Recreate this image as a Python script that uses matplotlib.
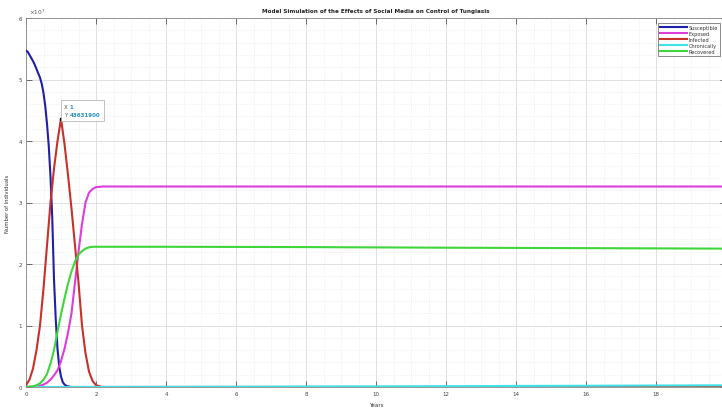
import matplotlib
matplotlib.use("Agg")
import matplotlib.pyplot as plt
from matplotlib.ticker import MultipleLocator
from matplotlib.patches import Rectangle

# values in units of 1e7 individuals, time in years
t_susceptible = [0, 0.05, 0.1, 0.15, 0.2, 0.25, 0.3, 0.35, 0.4, 0.45, 0.5, 0.55, 0.6, 0.65,
                 0.7, 0.75, 0.8, 0.85, 0.9, 0.95, 1.0, 1.05, 1.1, 1.15, 1.2, 1.3, 1.5, 3, 10, 20]
susceptible = [5.47, 5.45, 5.40, 5.35, 5.30, 5.24, 5.17, 5.10, 5.03, 4.93, 4.78, 4.57, 4.28,
               3.92, 3.42, 2.75, 1.75, 1.10, 0.62, 0.33, 0.17, 0.08, 0.04, 0.02, 0.01, 0.0,
               0.0, 0.0, 0.0, 0.0]

t_exposed = [0, 0.2, 0.4, 0.5, 0.6, 0.7, 0.8, 0.9, 1.0, 1.1, 1.2, 1.3, 1.4, 1.5, 1.6,
             1.7, 1.8, 1.9, 2.0, 2.2, 3, 10, 20]
exposed = [0.0, 0.005, 0.02, 0.04, 0.07, 0.12, 0.19, 0.27, 0.42, 0.62, 0.88, 1.20, 1.70,
           2.20, 2.65, 3.00, 3.16, 3.22, 3.25, 3.26, 3.26, 3.26, 3.26]

t_infected = [0, 0.1, 0.2, 0.3, 0.4, 0.5, 0.6, 0.7, 0.8, 0.9, 1.0, 1.1, 1.2, 1.3, 1.4,
              1.5, 1.6, 1.7, 1.8, 1.9, 2.0, 2.1, 2.2, 3, 10, 20]
infected = [0.03, 0.12, 0.30, 0.60, 1.00, 1.60, 2.30, 3.00, 3.55, 4.00, 4.36319, 3.95,
            3.45, 2.90, 2.30, 1.70, 1.00, 0.55, 0.25, 0.10, 0.03, 0.01, 0.0, 0.0, 0.0, 0.0]

t_chronically = [0, 2, 3, 5, 8, 10, 12, 14, 16, 18, 20]
chronically = [0.0, 0.0, 0.001, 0.003, 0.007, 0.01, 0.013, 0.017, 0.02, 0.024, 0.027]

t_recovered = [0, 0.2, 0.3, 0.4, 0.5, 0.6, 0.7, 0.8, 0.9, 1.0, 1.1, 1.2, 1.3, 1.4, 1.5,
               1.6, 1.7, 1.8, 1.9, 2.0, 2.5, 4, 8, 12, 16, 20]
recovered = [0.0, 0.01, 0.03, 0.06, 0.12, 0.21, 0.38, 0.60, 0.90, 1.18, 1.44, 1.68, 1.88,
             2.04, 2.15, 2.21, 2.25, 2.27, 2.28, 2.28, 2.28, 2.28, 2.275, 2.265, 2.258, 2.25]

names = ["Susceptible", "Exposed", "Infected", "Chronically", "Recovered"]
colors = ["#1f1fa8", "#dd3ddd", "#c8302c", "#3de3e6", "#3ed63a"]

x_ticks = [0, 2, 4, 6, 8, 10, 12, 14, 16, 18]
y_ticks = [0, 1, 2, 3, 4, 5, 6]

plt.rcParams['font.family'] = ['DejaVu Sans']
fig = plt.figure(figsize=(7.22, 4.10), dpi=100)
ax = fig.add_axes([26/722, 1-388/410, 700/722, (388-19)/410])

series = [(t_susceptible, susceptible), (t_exposed, exposed), (t_infected, infected),
          (t_chronically, chronically), (t_recovered, recovered)]
for name, (tt, vals), c in zip(names, series, colors):
    ax.plot(tt, vals, color=c, lw=1.5, label=name, zorder=3)

ax.set_xlim(0, 20)
ax.set_ylim(0, 6)
ax.set_xticks(x_ticks)
ax.set_yticks(y_ticks)
ax.xaxis.set_minor_locator(MultipleLocator(0.5))
ax.yaxis.set_minor_locator(MultipleLocator(0.2))
ax.grid(True, which='major', color='#dcdcdc', lw=0.6, ls='-')
ax.grid(True, which='minor', color='#e6e6e6', lw=0.5, ls=':')
ax.tick_params(which='major', direction='in', length=4, width=0.6, top=True, right=True,
               labelsize=4, colors='#555555', labelcolor='#444444', pad=3)
ax.tick_params(which='minor', length=0)
for s in ax.spines.values():
    s.set_color('#888888')
    s.set_linewidth(0.6)

ax.set_title("Model Simulation of the Effects of Social Media on Control of Tungiasis",
             fontsize=4.1, fontweight='bold', color='#222222', pad=4)
ax.set_xlabel("Years", fontsize=4, color='#333333', labelpad=4)
ax.set_ylabel("Number of Individuals", fontsize=3.8, color='#333333', labelpad=6)
ax.text(0.004, 1.005, r"$\times10^{7}$", transform=ax.transAxes, fontsize=4.2,
        color='#555555', ha='left', va='bottom')

# data tip
peak_t = t_infected[10]
peak_v = infected[10]
ax.plot([peak_t], [peak_v], 'o', color='black', ms=1.5, zorder=5)
ax.add_patch(Rectangle((61/722, 1-122/410), 43/722, 21/410, transform=fig.transFigure,
                       fc='white', ec='#aaaaaa', lw=0.5, zorder=6, clip_on=False))
tip_x, tip_y = 1.09, 4.49
ax.text(tip_x, tip_y, "X\nY", fontsize=4, color='#555555', ha='left', va='center',
        linespacing=1.7, zorder=7)
ax.text(tip_x + 0.16, tip_y, "1\n43631900", fontsize=4, color='#2a8fcf', fontweight='bold',
        ha='left', va='center', linespacing=1.7, zorder=7)

leg = ax.legend(loc='upper right', bbox_to_anchor=(720/722, 1-24/410),
                bbox_transform=fig.transFigure, fontsize=3.6, frameon=True,
                fancybox=False, handlelength=5.5, handletextpad=0.3,
                borderpad=0.4, labelspacing=0.2, borderaxespad=0)
leg.get_frame().set_edgecolor('#333333')
leg.get_frame().set_linewidth(0.5)
for txt in leg.get_texts():
    txt.set_color('#333333')

fig.savefig("out.png", dpi=100)
